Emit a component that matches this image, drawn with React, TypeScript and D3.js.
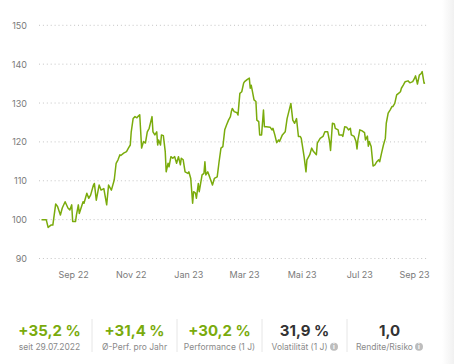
import React from "react";
import * as d3 from "d3";

// price index, start = 100 on 29.07.2022
const dates = [
  "2022-07-29", "2022-08-03", "2022-08-05", "2022-08-08", "2022-08-10", "2022-08-13", "2022-08-15", "2022-08-18",
  "2022-08-20", "2022-08-23", "2022-08-26", "2022-08-28", "2022-08-30", "2022-08-31", "2022-09-03", "2022-09-04",
  "2022-09-06", "2022-09-07", "2022-09-11", "2022-09-12", "2022-09-15", "2022-09-17", "2022-09-19", "2022-09-22",
  "2022-09-23", "2022-09-25", "2022-09-28", "2022-09-30", "2022-10-03", "2022-10-06", "2022-10-08", "2022-10-11",
  "2022-10-14", "2022-10-16", "2022-10-18", "2022-10-20", "2022-10-21", "2022-10-24", "2022-10-27", "2022-10-29",
  "2022-10-31", "2022-11-01", "2022-11-03", "2022-11-05", "2022-11-07", "2022-11-08", "2022-11-10", "2022-11-12",
  "2022-11-14", "2022-11-16", "2022-11-18", "2022-11-20", "2022-11-23", "2022-11-24", "2022-11-26", "2022-11-28",
  "2022-11-29", "2022-11-30", "2022-12-02", "2022-12-03", "2022-12-05", "2022-12-07", "2022-12-08", "2022-12-10",
  "2022-12-11", "2022-12-13", "2022-12-15", "2022-12-17", "2022-12-19", "2022-12-21", "2022-12-23", "2022-12-24",
  "2022-12-26", "2022-12-28", "2022-12-31", "2023-01-01", "2023-01-03", "2023-01-05", "2023-01-06", "2023-01-08",
  "2023-01-09", "2023-01-11", "2023-01-12", "2023-01-15", "2023-01-17", "2023-01-18", "2023-01-19", "2023-01-21",
  "2023-01-23", "2023-01-26", "2023-01-28", "2023-01-31", "2023-02-02", "2023-02-04", "2023-02-06", "2023-02-08",
  "2023-02-10", "2023-02-12", "2023-02-14", "2023-02-15", "2023-02-16", "2023-02-18", "2023-02-21", "2023-02-22",
  "2023-02-24", "2023-02-26", "2023-02-28", "2023-03-01", "2023-03-04", "2023-03-06", "2023-03-07", "2023-03-08",
  "2023-03-09", "2023-03-11", "2023-03-13", "2023-03-14", "2023-03-16", "2023-03-17", "2023-03-19", "2023-03-21",
  "2023-03-22", "2023-03-24", "2023-03-28", "2023-03-30", "2023-03-31", "2023-04-02", "2023-04-04", "2023-04-06",
  "2023-04-07", "2023-04-10", "2023-04-13", "2023-04-15", "2023-04-19", "2023-04-21", "2023-04-23", "2023-04-25",
  "2023-04-27", "2023-04-29", "2023-04-30", "2023-05-03", "2023-05-05", "2023-05-06", "2023-05-09", "2023-05-11",
  "2023-05-13", "2023-05-16", "2023-05-17", "2023-05-20", "2023-05-23", "2023-05-25", "2023-05-28", "2023-05-30",
  "2023-05-31", "2023-06-02", "2023-06-04", "2023-06-05", "2023-06-08", "2023-06-09", "2023-06-12", "2023-06-13",
  "2023-06-15", "2023-06-17", "2023-06-19", "2023-06-21", "2023-06-22", "2023-06-25", "2023-06-27", "2023-06-28",
  "2023-06-29", "2023-07-01", "2023-07-03", "2023-07-06", "2023-07-07", "2023-07-09", "2023-07-10", "2023-07-11",
  "2023-07-13", "2023-07-15", "2023-07-17", "2023-07-19", "2023-07-21", "2023-07-22", "2023-07-24", "2023-07-26",
  "2023-07-28", "2023-07-29", "2023-07-31", "2023-08-02", "2023-08-04", "2023-08-05", "2023-08-07", "2023-08-09",
  "2023-08-11", "2023-08-13", "2023-08-14", "2023-08-16", "2023-08-18", "2023-08-21", "2023-08-23", "2023-08-26",
  "2023-08-28", "2023-08-29", "2023-08-31", "2023-09-02", "2023-09-04", "2023-09-05", "2023-09-07", "2023-09-08",
];

const values = [
  100.0, 100.0, 98.0, 98.6, 98.6, 104.0, 103.4, 101.2,
  103.0, 104.6, 103.0, 102.5, 103.8, 99.5, 99.5, 101.2,
  103.8, 101.6, 104.6, 104.2, 106.8, 105.5, 106.3, 108.9,
  109.3, 105.0, 108.9, 107.6, 108.0, 103.8, 108.9, 107.6,
  110.2, 114.5, 115.4, 116.7, 116.5, 117.1, 117.5, 118.4,
  119.2, 122.6, 126.0, 126.5, 126.2, 126.5, 127.0, 118.4,
  120.1, 119.7, 122.6, 123.5, 126.5, 122.6, 121.8, 122.6,
  119.2, 120.5, 119.2, 121.8, 121.6, 117.5, 112.3, 114.5,
  113.6, 116.2, 115.8, 116.2, 114.5, 116.2, 114.1, 115.8,
  115.4, 112.3, 111.9, 112.3, 110.6, 104.2, 107.2, 106.8,
  105.5, 109.3, 107.2, 111.5, 111.9, 114.9, 111.5, 112.3,
  111.0, 108.9, 110.6, 111.0, 114.9, 118.4, 118.8, 123.1,
  124.4, 125.6, 126.5, 127.8, 128.6, 127.8, 127.5, 126.9,
  132.5, 132.9, 135.1, 135.5, 136.1, 136.4, 133.8, 134.6,
  133.4, 130.8, 130.4, 125.6, 125.2, 121.8, 121.8, 128.2,
  123.9, 123.9, 123.8, 123.1, 123.5, 121.8, 119.8, 120.5,
  120.1, 121.8, 122.6, 126.0, 129.9, 125.6, 124.8, 126.0,
  121.4, 121.4, 120.9, 116.2, 112.3, 115.4, 116.7, 118.4,
  117.5, 116.7, 119.7, 120.9, 121.4, 122.6, 122.6, 120.1,
  117.8, 124.8, 124.6, 123.5, 123.1, 121.8, 121.8, 121.4,
  123.9, 123.8, 123.1, 123.5, 121.8, 121.4, 120.1, 118.2,
  120.5, 123.1, 122.9, 122.4, 120.5, 121.5, 118.9, 120.1,
  118.8, 113.8, 114.1, 114.9, 115.4, 114.9, 117.1, 119.2,
  120.9, 124.8, 127.4, 128.2, 129.1, 129.1, 129.9, 132.1,
  132.5, 132.9, 133.8, 134.6, 135.5, 135.7, 135.2, 135.5,
  136.4, 137.0, 134.9, 137.2, 137.6, 138.1, 135.1, 135.2,
];

const yTicks = [90, 100, 110, 120, 130, 140, 150];
const xTickDates = ["2022-09-01", "2022-11-01", "2023-01-01", "2023-03-01", "2023-05-01", "2023-07-01", "2023-09-01"];
const xTickLabels = ["Sep 22", "Nov 22", "Jan 23", "Mar 23", "Mai 23", "Jul 23", "Sep 23"];

const statValues = ["+35,2 %", "+31,4 %", "+30,2 %", "31,9 %", "1,0"];
const statLabels = ["seit 29.07.2022", "Ø-Perf. pro Jahr", "Performance (1 J)", "Volatilität (1 J)", "Rendite/Risiko"];
const statPositive = [true, true, true, false, false];
const statInfo = [false, false, false, true, true];

const W = 454;
const H = 364;
const FONT = "Inter, 'Noto Sans', sans-serif";
const GREEN = "#7aab0c";

export default function App() {
  const parse = d3.timeParse("%Y-%m-%d");
  const data = dates.map((d, i) => ({ date: parse(d) as Date, value: values[i] }));

  const plotLeft = 39;
  const plotRight = 429;

  const x = d3
    .scaleTime()
    .domain([parse("2022-07-29") as Date, parse("2023-09-08") as Date])
    .range([41.5, 425]);
  const y = d3.scaleLinear().domain([90, 150]).range([258.5, 25.3]);

  const line = d3
    .line<{ date: Date; value: number }>()
    .x((d) => x(d.date))
    .y((d) => y(d.value))
    .curve(d3.curveLinear);

  const cols = d3
    .scaleBand<number>()
    .domain(statValues.map((_, i) => i))
    .range([7, 432]);

  return (
    <svg
      width={W}
      height={H}
      viewBox={`0 0 ${W} ${H}`}
      style={{ position: "absolute", top: 0, left: 0, fontFamily: FONT }}
    >
      <defs>
        <linearGradient id="edge" x1="0" x2="1" y1="0" y2="0">
          <stop offset="0" stopColor="#ffffff" />
          <stop offset="1" stopColor="#f1f1f1" />
        </linearGradient>
      </defs>
      <rect x={0} y={0} width={W} height={H} fill="#fff" />
      <rect x={442} y={0} width={12} height={H} fill="url(#edge)" />

      {/* grid + y labels */}
      {yTicks.map((t) => (
        <g key={`y-${t}`}>
          <line
            x1={plotLeft}
            x2={plotRight}
            y1={y(t)}
            y2={y(t)}
            stroke="#c4c4c4"
            strokeWidth={1}
            strokeDasharray="1,2.9"
          />
          <text
            x={27}
            y={y(t)}
            textAnchor="end"
            dominantBaseline="central"
            fontSize={9}
            fill="#7a7a7a"
          >
            {t}
          </text>
        </g>
      ))}

      {/* x labels */}
      {xTickDates.map((d, i) => {
        const cx = Math.min(x(parse(d) as Date), plotRight - 14.5);
        return (
          <text
            key={`x-${d}`}
            x={cx}
            y={277.5}
            textAnchor="middle"
            fontSize={9}
            fill="#7a7a7a"
          >
            {xTickLabels[i]}
          </text>
        );
      })}

      <path
        d={line(data) ?? ""}
        fill="none"
        stroke={GREEN}
        strokeWidth={1.5}
        strokeLinejoin="round"
      />

      {/* key figures */}
      {statValues.map((v, i) => {
        const cx = (cols(i) ?? 0) + cols.bandwidth() / 2;
        const shift = statInfo[i] ? -5 : 0;
        return (
          <g key={`s-${i}`}>
            {i > 0 && (
              <line
                x1={cols(i)}
                x2={cols(i)}
                y1={319}
                y2={352}
                stroke="#e6e6e6"
                strokeWidth={1}
              />
            )}
            <text
              x={cx}
              y={336}
              textAnchor="middle"
              fontSize={15}
              fontWeight={700}
              fill={statPositive[i] ? GREEN : "#333"}
            >
              {v}
            </text>
            <text
              x={cx + shift}
              y={350}
              textAnchor="middle"
              fontSize={8.5}
              fill="#8a8a8a"
            >
              {statLabels[i]}
            </text>
            {statInfo[i] && (
              <g>
                <circle cx={cx + 29.5} cy={346.7} r={4} fill="#bdbdbd" />
                <text
                  x={cx + 29.5}
                  y={349.3}
                  textAnchor="middle"
                  fontSize={6.5}
                  fontWeight={700}
                  fill="#fff"
                >
                  i
                </text>
              </g>
            )}
          </g>
        );
      })}
    </svg>
  );
}
